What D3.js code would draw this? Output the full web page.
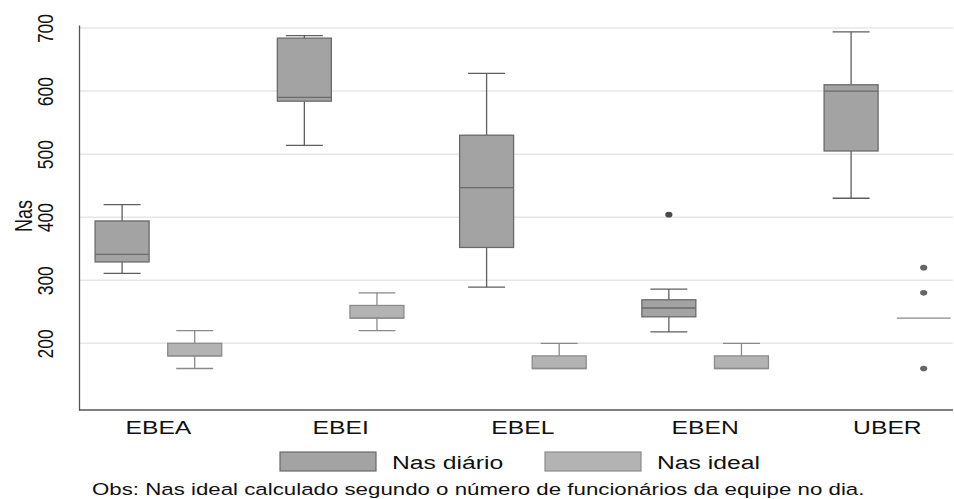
<!DOCTYPE html>
<html>
<head>
<meta charset="utf-8">
<script src="https://cdn.jsdelivr.net/npm/d3@7"></script>
<style>
  body { margin: 0; background: #fff; }
  text { font-family: "Liberation Sans", Arial, sans-serif; fill: #111; }
</style>
</head>
<body>
<div id="chart"></div>
<script>
// categories and series
const categories = ["EBEA", "EBEI", "EBEL", "EBEN", "UBER"];
const seriesNames = ["Nas diário", "Nas ideal"];

// box stats per category: [min, q1, median, q3, max]
const diarioStats = [
    [311, 329, 341, 394, 420],
    [514, 584, 590, 684, 688],
    [289, 352, 447, 530, 628],
    [218, 242, 256, 269, 286],
    [430, 505, 600, 610, 694]
];
const diarioOutliers = [[], [], [], [404], []];

const idealStats = [
    [160, 180, 180, 200, 220],
    [220, 240, 240, 260, 280],
    [160, 160, 160, 180, 200],
    [160, 160, 160, 180, 200],
    [240, 240, 240, 240, 240]
];
const idealOutliers = [[], [], [], [], [160, 280, 320]];

const yTicks = [200, 300, 400, 500, 600, 700];
const yTitle = "Nas";
const note = "Obs: Nas ideal calculado segundo o número de funcionários da equipe no dia.";

const W = 954, H = 499;
const sx = 1.3; // horizontal stretch of the text

const svg = d3.select("#chart")
    .append("svg")
    .attr("width", W)
    .attr("height", H);

const plotLeft = 79, plotRight = 953, plotTop = 25, plotBottom = 410;

const y = d3.scaleLinear()
    .domain([94.2, 704.8])
    .range([plotBottom, plotTop]);

const x = d3.scalePoint()
    .domain(categories)
    .range([158.4, 887.4]);

const xInner = d3.scalePoint()
    .domain(seriesNames)
    .range([-36.3, 36.3]);

const boxW = 54, capW = 37;

const styles = {
    "Nas diário": { fill: "#a3a3a3", stroke: "#6a6a6a", line: "#5e5e5e", dot: "#4a4a4a" },
    "Nas ideal": { fill: "#b3b3b3", stroke: "#8c8c8c", line: "#8a8a8a", dot: "#666" }
};

// gridlines
svg.append("g")
    .selectAll("line")
    .data(yTicks)
    .join("line")
    .attr("x1", plotLeft)
    .attr("x2", plotRight)
    .attr("y1", d => y(d))
    .attr("y2", d => y(d))
    .attr("stroke", "#e6e6e6")
    .attr("stroke-width", 1.5);

// y axis
const axisL = svg.append("g")
    .attr("transform", `translate(${plotLeft},0)`)
    .call(d3.axisLeft(y).tickValues(yTicks).tickSize(0));
axisL.select(".domain").attr("stroke", "#555").attr("stroke-width", 1.3);
axisL.selectAll("text")
    .attr("x", null)
    .attr("dy", null)
    .attr("text-anchor", "middle")
    .attr("transform", `translate(-26,0) scale(${sx},1) rotate(-90)`)
    .style("font-size", "17.5px")
    .style("font-family", "'Liberation Sans', Arial, sans-serif")
    .attr("fill", "#111");

svg.append("text")
    .attr("text-anchor", "middle")
    .attr("transform", `translate(32,${216}) scale(${sx},1) rotate(-90)`)
    .style("font-size", "18px")
    .text(yTitle);

// x axis
svg.append("line")
    .attr("x1", plotLeft)
    .attr("x2", plotRight)
    .attr("y1", plotBottom)
    .attr("y2", plotBottom)
    .attr("stroke", "#555")
    .attr("stroke-width", 1.3);

svg.append("g")
    .selectAll("text")
    .data(categories)
    .join("text")
    .attr("text-anchor", "middle")
    .attr("transform", d => `translate(${x(d)},434) scale(${sx},1)`)
    .style("font-size", "19px")
    .text(d => d);

// boxes
function drawSeries(name, stats, outliers) {
    const st = styles[name];
    const g = svg.append("g");
    stats.forEach((s, i) => {
        const cx = x(categories[i]) + xInner(name);
        const [mn, q1, md, q3, mx] = s;
        const b = g.append("g");
        // whiskers
        if (mx > q3) {
            b.append("line").attr("x1", cx).attr("x2", cx).attr("y1", y(q3)).attr("y2", y(mx))
                .attr("stroke", st.line).attr("stroke-width", 1.3);
            b.append("line").attr("x1", cx - capW / 2).attr("x2", cx + capW / 2).attr("y1", y(mx)).attr("y2", y(mx))
                .attr("stroke", st.line).attr("stroke-width", 1.3);
        }
        if (mn < q1) {
            b.append("line").attr("x1", cx).attr("x2", cx).attr("y1", y(q1)).attr("y2", y(mn))
                .attr("stroke", st.line).attr("stroke-width", 1.3);
            b.append("line").attr("x1", cx - capW / 2).attr("x2", cx + capW / 2).attr("y1", y(mn)).attr("y2", y(mn))
                .attr("stroke", st.line).attr("stroke-width", 1.3);
        }
        if (q3 > q1) {
            b.append("rect")
                .attr("x", cx - boxW / 2)
                .attr("width", boxW)
                .attr("y", y(q3))
                .attr("height", y(q1) - y(q3))
                .attr("fill", st.fill)
                .attr("stroke", st.stroke)
                .attr("stroke-width", 1.3);
        }
        b.append("line")
            .attr("x1", cx - boxW / 2).attr("x2", cx + boxW / 2)
            .attr("y1", y(md)).attr("y2", y(md))
            .attr("stroke", q3 > q1 ? st.stroke : st.line)
            .attr("stroke-width", 1.3);
        b.selectAll("ellipse")
            .data(outliers[i])
            .join("ellipse")
            .attr("cx", cx)
            .attr("cy", d => y(d))
            .attr("rx", 3.6)
            .attr("ry", 2.8)
            .attr("fill", st.dot);
    });
}

drawSeries("Nas diário", diarioStats, diarioOutliers);
drawSeries("Nas ideal", idealStats, idealOutliers);

// legend
const legendX = [280, 545];
const legend = svg.append("g")
    .selectAll("g")
    .data(seriesNames)
    .join("g")
    .attr("transform", (d, i) => `translate(${legendX[i]},452)`);
legend.append("rect")
    .attr("width", 96)
    .attr("height", 19)
    .attr("fill", d => styles[d].fill)
    .attr("stroke", d => styles[d].stroke)
    .attr("stroke-width", 1.2);
legend.append("text")
    .attr("transform", `translate(112,17) scale(${sx},1)`)
    .style("font-size", "19px")
    .text(d => d);

// note
svg.append("text")
    .attr("transform", `translate(92,494.5) scale(1.35,1)`)
    .style("font-size", "16.5px")
    .attr("fill", "#000")
    .text(note);
</script>
</body>
</html>
